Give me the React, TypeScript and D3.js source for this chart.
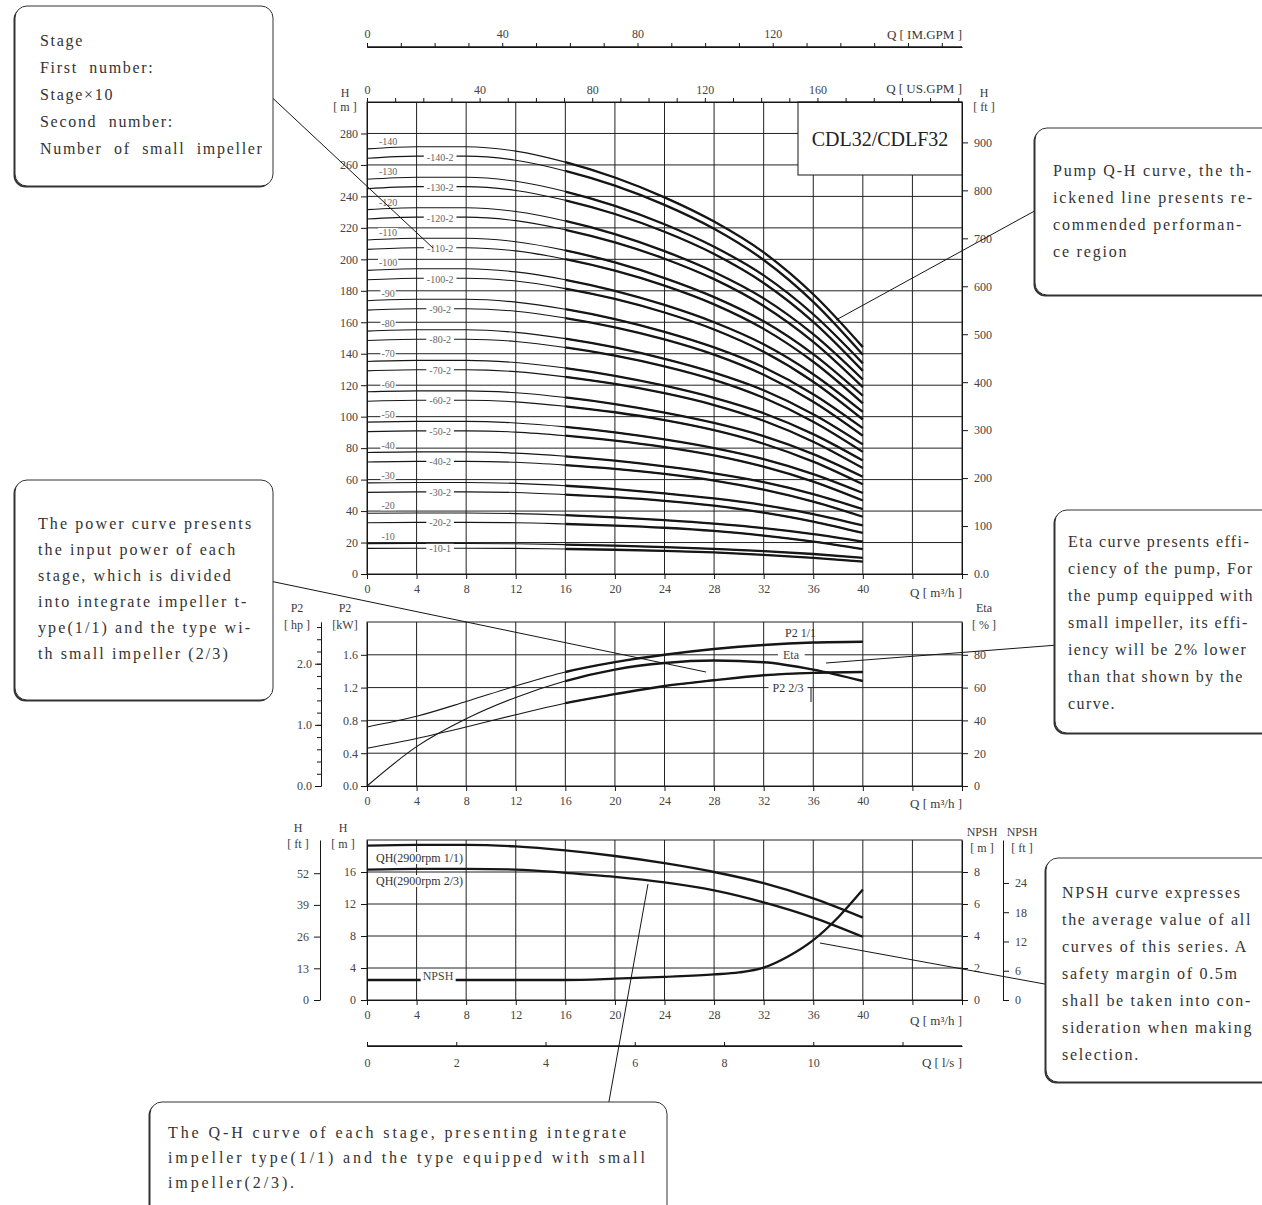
import React, { useEffect, useRef } from 'react';
import * as d3 from 'd3';

// flow points (m3/h) used by the stage, power and eta curves
const qPoints = [0, 4, 8, 12, 16, 20, 24, 28, 32, 36, 40];
// head per stage, integrate impeller (1/1) and small impeller (2/3)
const headFull = [19.3, 19.4, 19.4, 19.2, 18.7, 18.0, 17.1, 16.0, 14.6, 12.7, 10.3];
const headSmall = [16.3, 16.4, 16.4, 16.3, 15.9, 15.4, 14.7, 13.7, 12.2, 10.3, 7.9];
// NPSH curve
const npshQ = [0, 8, 16, 20, 24, 28, 30, 32, 34, 36, 38, 40];
const npshM = [1.25, 1.25, 1.25, 1.33, 1.45, 1.6, 1.72, 2.02, 2.73, 3.74, 5.16, 6.9];
// power (kW) and efficiency (%)
const p2Full = [0.72, 0.85, 1.03, 1.22, 1.39, 1.51, 1.6, 1.67, 1.72, 1.75, 1.76];
const p2Small = [0.46, 0.58, 0.72, 0.87, 1.01, 1.12, 1.22, 1.29, 1.35, 1.38, 1.39];
const etaPct = [0, 24, 41, 54, 64, 71, 75, 76.5, 75.5, 71, 64];

// stage curves
const stageLabels = ['-10', '-20', '-30', '-40', '-50', '-60', '-70', '-80', '-90', '-100', '-110', '-120', '-130', '-140'];
const stageCount = [1, 2, 3, 4, 5, 6, 7, 8, 9, 10, 11, 12, 13, 14];
const smallLabels = ['-10-1', '-20-2', '-30-2', '-40-2', '-50-2', '-60-2', '-70-2', '-80-2', '-90-2', '-100-2', '-110-2', '-120-2', '-130-2', '-140-2'];
const smallFullCount = [0, 0, 1, 2, 3, 4, 5, 6, 7, 8, 9, 10, 11, 12];
const smallImpCount = [1, 2, 2, 2, 2, 2, 2, 2, 2, 2, 2, 2, 2, 2];

// ticks
const qTicks = [0, 4, 8, 12, 16, 20, 24, 28, 32, 36, 40, 44, 48];
const hTicks = [0, 20, 40, 60, 80, 100, 120, 140, 160, 180, 200, 220, 240, 260, 280];
const ftTicks = [0, 100, 200, 300, 400, 500, 600, 700, 800, 900];
const kwTicks = [0, 0.4, 0.8, 1.2, 1.6];
const etaTicks = [0, 20, 40, 60, 80];
const hBotTicks = [0, 4, 8, 12, 16];
const npshTicks = [0, 2, 4, 6, 8];
const hFtTicks = [0, 13, 26, 39, 52];
const npshFtTicks = [0, 6, 12, 18, 24];

const notes = {
  stage: ['Stage', 'First  number:', 'Stage×10', 'Second  number:', 'Number  of  small  impeller'],
  qh: ['Pump Q-H curve, the th-', 'ickened line presents re-', 'commended performan-', 'ce region'],
  power: ['The power curve presents', 'the input power of each', 'stage, which is divided', 'into integrate impeller t-', 'ype(1/1) and the type wi-', 'th small impeller (2/3)'],
  eta: ['Eta curve presents effi-', 'ciency of the pump, For', 'the pump equipped with', 'small impeller, its effi-', 'iency will be 2% lower', 'than that shown by the', 'curve.'],
  npsh: ['NPSH curve expresses', 'the average value of all', 'curves of this series. A', 'safety margin of 0.5m', 'shall be taken into con-', 'sideration when making', 'selection.'],
  stageQh: ['The Q-H curve of each stage, presenting integrate', 'impeller type(1/1) and the type equipped with small', 'impeller(2/3).'],
};

export default function App() {
  const ref = useRef<SVGSVGElement>(null);

  useEffect(() => {
    if (!ref.current) return;
    const svg = d3.select(ref.current);
    svg.selectAll('*').remove();

    const serif = '"Liberation Serif", "DejaVu Serif", serif';
    const ink = '#161616';
    const txt = '#3a3a3a';

    const x = d3.scaleLinear().domain([0, 48]).range([367, 962]);
    const yTop = d3.scaleLinear().domain([0, 300]).range([574, 102]);
    const yTopFt = d3.scaleLinear().domain([0, 300 / 0.3048]).range([574, 102]);
    const yMid = d3.scaleLinear().domain([0, 2]).range([786, 622]);
    const yHp = d3.scaleLinear().domain([0, 2 / 0.7457]).range([786, 622]);
    const yEta = d3.scaleLinear().domain([0, 100]).range([786, 622]);
    const yBot = d3.scaleLinear().domain([0, 20]).range([1000, 840]);
    const yBotFt = d3.scaleLinear().domain([0, 20 / 0.3048]).range([1000, 840]);
    const yNpsh = d3.scaleLinear().domain([0, 10]).range([1000, 840]);
    const yNpshFt = d3.scaleLinear().domain([0, 10 / 0.3048]).range([1000, 840]);
    const xUs = d3.scaleLinear().domain([0, 48 * 4.4029]).range([367, 962]);
    const xIm = d3.scaleLinear().domain([0, 48 * 3.6662]).range([367, 962]);
    const xLs = d3.scaleLinear().domain([0, 48 / 3.6]).range([367, 962]);

    const label = (s: string, px: number, py: number, size = 12, anchor = 'start', fill = txt) =>
      svg.append('text').attr('x', px).attr('y', py).attr('font-size', size)
        .attr('text-anchor', anchor).attr('fill', fill).attr('font-family', serif).text(s);

    const styleAxis = (g: any, size = 12) => {
      g.attr('font-family', serif).attr('font-size', size);
      g.selectAll('text').attr('fill', '#444');
      g.selectAll('line').attr('stroke', ink);
      g.select('.domain').attr('stroke', ink);
    };

    // clip for thickened region
    const defs = svg.append('defs');
    defs.append('clipPath').attr('id', 'thick').append('rect')
      .attr('x', x(16)).attr('y', 0).attr('width', x(48) - x(16)).attr('height', 1205);

    // ---- grids
    const grid = (y: any, yVals: number[], y0: number, y1: number) => {
      const g = svg.append('g').attr('stroke', '#222').attr('stroke-width', 1);
      qTicks.filter((q) => q > 0 && q < 48).forEach((q) =>
        g.append('line').attr('x1', x(q)).attr('x2', x(q)).attr('y1', y0).attr('y2', y1));
      yVals.filter((v) => v > 0).forEach((v) =>
        g.append('line').attr('x1', x(0)).attr('x2', x(48)).attr('y1', y(v)).attr('y2', y(v)));
      g.append('rect').attr('x', x(0)).attr('y', y1).attr('width', x(48) - x(0)).attr('height', y0 - y1)
        .attr('fill', 'none');
    };
    grid(yTop, hTicks, 574, 102);
    grid(yMid, kwTicks, 786, 622);
    grid(yBot, hBotTicks, 1000, 840);

    const curve = (qs: number[], vals: number[], y: any, thin: number, thick: number) => {
      const line = d3.line<number>().x((_, i) => x(qs[i])).y((d) => y(d)).curve(d3.curveMonotoneX);
      svg.append('path').attr('d', line(vals)).attr('fill', 'none').attr('stroke', ink).attr('stroke-width', thin);
      if (thick > thin) {
        svg.append('path').attr('d', line(vals)).attr('fill', 'none').attr('stroke', ink)
          .attr('stroke-width', thick).attr('clip-path', 'url(#thick)');
      }
    };

    const bgText = (s: string, px: number, py: number, size: number, anchor = 'middle', fill = '#555', pad = 1) => {
      const t = label(s, px, py, size, anchor, fill);
      const b = (t.node() as SVGTextElement).getBBox();
      svg.insert('rect', () => t.node()).attr('x', b.x - pad).attr('y', b.y + 1).attr('width', b.width + 2 * pad)
        .attr('height', b.height - 2).attr('fill', '#fff');
      return t;
    };

    // ---- top panel: stage curves
    const fullHeads = stageCount.map((n) => headFull.map((h) => n * h));
    const smallHeads = smallFullCount.map((n, k) => headFull.map((h, i) => n * h + smallImpCount[k] * headSmall[i]));
    fullHeads.forEach((vals) => curve(qPoints, vals, yTop, 1.1, 2.3));
    smallHeads.forEach((vals) => curve(qPoints, vals, yTop, 1.1, 2.3));
    fullHeads.forEach((vals, k) => bgText(stageLabels[k], x(1.7), yTop(vals[0]) - 4, 10, 'middle', '#666'));
    smallHeads.forEach((vals, k) =>
      bgText(smallLabels[k], x(5.9), yTop((vals[0] + vals[1]) / 2) + 3.5, 10, 'middle', '#666', 3));

    // model box
    svg.append('rect').attr('x', 798).attr('y', 102).attr('width', 164).attr('height', 73)
      .attr('fill', '#fff').attr('stroke', ink);
    label('CDL32/CDLF32', 880, 146, 20, 'middle', '#222');

    // top panel axes
    styleAxis(svg.append('g').attr('transform', 'translate(367,0)')
      .call(d3.axisLeft(yTop).tickValues(hTicks).tickSize(6).tickSizeOuter(0).tickPadding(3)));
    styleAxis(svg.append('g').attr('transform', 'translate(962,0)')
      .call(d3.axisRight(yTopFt).tickValues(ftTicks).tickSize(6).tickSizeOuter(0).tickPadding(6)
        .tickFormat((d: any) => (d === 0 ? '0.0' : String(d)))));
    styleAxis(svg.append('g').attr('transform', 'translate(0,574)')
      .call(d3.axisBottom(x).tickValues(qTicks).tickSize(5).tickSizeOuter(0).tickPadding(5)
        .tickFormat((d: any) => (d <= 40 ? String(d) : ''))));
    styleAxis(svg.append('g').attr('transform', 'translate(0,102)')
      .call(d3.axisTop(xUs).tickValues(d3.range(0, 211, 10)).tickSize(4).tickSizeOuter(0).tickPadding(4)
        .tickFormat((d: any) => (d % 40 === 0 && d <= 160 ? String(d) : ''))));
    styleAxis(svg.append('g').attr('transform', 'translate(0,47)')
      .call(d3.axisTop(xIm).tickValues(d3.range(0, 176, 10)).tickSize(4).tickSizeOuter(0).tickPadding(5)
        .tickFormat((d: any) => (d % 40 === 0 && d <= 120 ? String(d) : ''))));
    svg.append('line').attr('x1', x(0)).attr('x2', x(48)).attr('y1', 47).attr('y2', 47).attr('stroke', ink).attr('stroke-width', 1.5);
    label('Q [ IM.GPM ]', 962, 39, 13, 'end');
    label('Q [ US.GPM ]', 962, 93, 13, 'end');
    label('H', 345, 97, 12, 'middle');
    label('[ m ]', 345, 111, 12, 'middle');
    label('H', 984, 97, 12, 'middle');
    label('[ ft ]', 984, 111, 12, 'middle');
    label('Q [ m³/h ]', 962, 597, 13, 'end');

    // ---- middle panel: power & eta
    curve(qPoints, p2Full, yMid, 1.1, 2.4);
    curve(qPoints, p2Small, yMid, 1.1, 2.4);
    curve(qPoints, etaPct, yEta, 1.1, 2.4);
    label('P2  1/1', 785, 637, 12, 'start', '#333');
    bgText('Eta', 791, 659, 12, 'middle', '#444', 5);
    bgText('P2  2/3', 788, 692, 12, 'middle', '#333', 4);
    svg.append('line').attr('x1', 811).attr('x2', 811).attr('y1', 688).attr('y2', 702).attr('stroke', ink);

    styleAxis(svg.append('g').attr('transform', 'translate(367,0)')
      .call(d3.axisLeft(yMid).tickValues(kwTicks).tickSize(6).tickSizeOuter(0).tickPadding(3).tickFormat(d3.format('.1f'))));
    styleAxis(svg.append('g').attr('transform', 'translate(962,0)')
      .call(d3.axisRight(yEta).tickValues(etaTicks).tickSize(6).tickSizeOuter(0).tickPadding(6)));
    styleAxis(svg.append('g').attr('transform', 'translate(0,786)')
      .call(d3.axisBottom(x).tickValues(qTicks).tickSize(5).tickSizeOuter(0).tickPadding(5)
        .tickFormat((d: any) => (d <= 40 ? String(d) : ''))));
    styleAxis(svg.append('g').attr('transform', 'translate(321,0)')
      .call(d3.axisLeft(yHp).tickValues(d3.range(0, 2.61, 0.2)).tickSize(4).tickSizeOuter(0).tickFormat(() => '')));
    styleAxis(svg.append('g').attr('transform', 'translate(321,0)')
      .call(d3.axisLeft(yHp).tickValues([0, 1, 2]).tickSize(6).tickSizeOuter(0).tickPadding(3).tickFormat(d3.format('.1f'))));
    label('P2', 297, 612, 12, 'middle');
    label('[ hp ]', 297, 629, 12, 'middle');
    label('P2', 345, 612, 12, 'middle');
    label('[kW]', 345, 629, 12, 'middle');
    label('Eta', 984, 612, 12, 'middle');
    label('[ % ]', 984, 629, 12, 'middle');
    label('Q [ m³/h ]', 962, 808, 13, 'end');

    // ---- bottom panel: QH per stage and NPSH
    curve(qPoints, headFull, yBot, 2.3, 2.3);
    curve(qPoints, headSmall, yBot, 2.3, 2.3);
    curve(npshQ, npshM, yNpsh, 2.3, 2.3);
    bgText('QH(2900rpm 1/1)', 376, 862, 12, 'start', '#333', 2);
    bgText('QH(2900rpm 2/3)', 376, 885, 12, 'start', '#333', 2);
    bgText('NPSH', 438, 980, 12, 'middle', '#444', 2);

    styleAxis(svg.append('g').attr('transform', 'translate(367,0)')
      .call(d3.axisLeft(yBot).tickValues(hBotTicks).tickSize(6).tickSizeOuter(0).tickPadding(5)));
    styleAxis(svg.append('g').attr('transform', 'translate(962,0)')
      .call(d3.axisRight(yNpsh).tickValues(npshTicks).tickSize(6).tickSizeOuter(0).tickPadding(6)));
    styleAxis(svg.append('g').attr('transform', 'translate(320,0)')
      .call(d3.axisLeft(yBotFt).tickValues(hFtTicks).tickSize(6).tickSizeOuter(0).tickPadding(5)));
    styleAxis(svg.append('g').attr('transform', 'translate(1003,0)')
      .call(d3.axisRight(yNpshFt).tickValues(npshFtTicks).tickSize(6).tickSizeOuter(0).tickPadding(6)));
    styleAxis(svg.append('g').attr('transform', 'translate(0,1000)')
      .call(d3.axisBottom(x).tickValues(qTicks).tickSize(5).tickSizeOuter(0).tickPadding(5)
        .tickFormat((d: any) => (d <= 40 ? String(d) : ''))));
    styleAxis(svg.append('g').attr('transform', 'translate(0,1046)')
      .call(d3.axisBottom(xLs).tickValues([0, 2, 4, 6, 8, 10, 12]).tickSize(-4).tickSizeOuter(0).tickPadding(12)
        .tickFormat((d: any) => (d <= 10 ? String(d) : ''))));
    svg.append('line').attr('x1', x(0)).attr('x2', x(48)).attr('y1', 1046).attr('y2', 1046).attr('stroke', ink).attr('stroke-width', 1.5);
    label('H', 298, 832, 12, 'middle');
    label('[ ft ]', 298, 848, 12, 'middle');
    label('H', 343, 832, 12, 'middle');
    label('[ m ]', 343, 848, 12, 'middle');
    label('NPSH', 982, 836, 12, 'middle');
    label('[ m ]', 982, 852, 12, 'middle');
    label('NPSH', 1022, 836, 12, 'middle');
    label('[ ft ]', 1022, 852, 12, 'middle');
    label('Q [ m³/h ]', 962, 1025, 13, 'end');
    label('Q [ l/s ]', 962, 1067, 13, 'end');

    // ---- annotation boxes and leader lines
    const leader = (x1: number, y1: number, x2: number, y2: number) =>
      svg.append('line').attr('x1', x1).attr('y1', y1).attr('x2', x2).attr('y2', y2)
        .attr('stroke', ink).attr('stroke-width', 1);

    const box = (bx: number, by: number, bw: number, bh: number, lines: string[], tx: number, ty: number,
      dy: number, spacing: number) => {
      svg.append('rect').attr('x', bx - 1.5).attr('y', by + 1.5).attr('width', bw).attr('height', bh)
        .attr('rx', 12).attr('fill', '#333');
      svg.append('rect').attr('x', bx).attr('y', by).attr('width', bw).attr('height', bh)
        .attr('rx', 12).attr('fill', '#fff').attr('stroke', '#333').attr('stroke-width', 1);
      lines.forEach((s, i) =>
        label(s, tx, ty + i * dy, 16, 'start', '#333').attr('letter-spacing', spacing).attr('xml:space', 'preserve'));
    };

    leader(264, 90, 433, 248);
    leader(1040, 208, 836, 320);
    leader(265, 580, 706, 672);
    leader(1058, 645, 826, 663);
    leader(1050, 985, 820, 943);
    leader(606, 1118, 648, 884);

    box(15, 6, 258, 180, notes.stage, 40, 46, 27, 1.7);
    box(1035, 128, 240, 167, notes.qh, 1053, 176, 27, 1.8);
    box(15, 480, 258, 220, notes.power, 38, 529, 26, 2.1);
    box(1055, 510, 220, 223, notes.eta, 1068, 547, 27, 1.4);
    box(1046, 858, 230, 224, notes.npsh, 1062, 898, 27, 1.7);
    box(150, 1102, 517, 120, notes.stageQh, 168, 1138, 25, 2.9);
  }, []);

  return (
    <svg
      ref={ref}
      width={1262}
      height={1205}
      style={{ position: 'absolute', left: 0, top: 0, background: '#fff' }}
    />
  );
}
